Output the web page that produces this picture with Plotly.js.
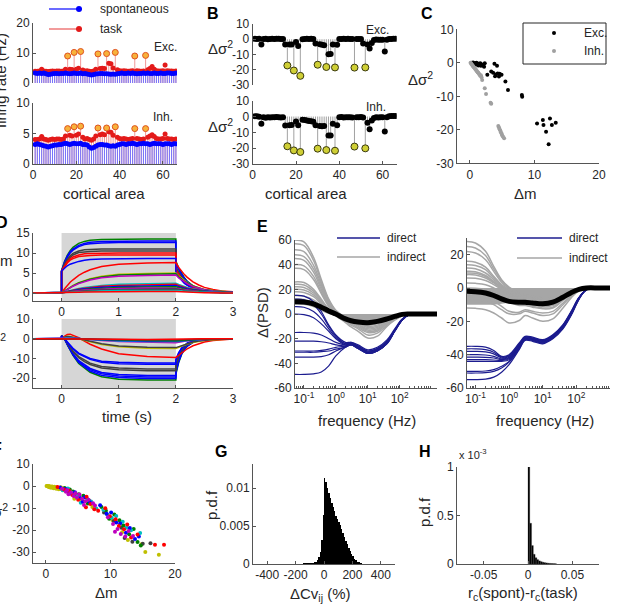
<!DOCTYPE html>
<html>
<head>
<meta charset="utf-8">
<script src="https://cdn.plot.ly/plotly-3.0.1.min.js"></script>
<style>
  html, body { margin: 0; padding: 0; background: #fff; }
  #fig { width: 618px; height: 604px; }
</style>
</head>
<body>
<div id="fig"></div>
<script>
// ---------- A / B : per-area firing rates and variance changes ----------
const stimAreas = [16, 19, 22, 30, 34, 38, 47, 52];

const rateSpontExc = [3.3,3.2,3.3,3.2,3.3,3.1,2.8,2.9,3.1,3.2, 3.2,3.1,3.2,3.2,3.3,3.2,3.1,3.2,3.3,3.2,
  3.2,3.3,3.1,3.2,3.0,2.8,2.7,2.8,3.0,3.1, 3.2,3.2,3.1,3.1,3.0,2.9,3.0,2.9,3.1,3.2,
  3.3,3.2,3.2,3.3,3.2,3.3,3.2,3.1,3.2,3.2, 3.3,3.2,3.3,3.2,3.2,3.3,3.2,3.2,3.3,3.2, 3.2,3.3,3.3,3.2,3.2,3.3];
const rateTaskExc = [3.9,3.9,4.0,4.6,4.0,3.9,3.8,3.9,4.0,3.9, 4.0,4.0,3.9,4.0,4.6,9.0,4.6,4.5,10.2,4.6,
  4.9,10.5,4.3,4.0,4.1,3.9,3.8,4.0,4.6,9.7, 4.8,4.9,4.8,9.8,6.6,6.4,5.0,10.2,4.4,4.1,
  4.0,4.1,4.0,3.9,4.0,4.1,9.0,4.1,4.0,3.9, 4.0,9.2,4.4,4.8,5.5,4.6,4.1,4.0,4.0,4.1, 6.0,4.1,4.0,4.0,3.9,4.0];
const rateSpontInh = [3.2,3.3,3.2,3.1,3.0,2.9,2.8,2.9,3.0,3.1, 3.1,3.2,3.2,3.3,3.4,3.3,3.2,3.3,3.4,3.3,
  3.3,3.4,3.2,3.2,3.1,2.8,2.6,2.7,2.9,3.1, 3.2,3.2,3.1,3.1,3.0,2.9,3.0,2.9,3.1,3.2,
  3.3,3.3,3.2,3.3,3.3,3.4,3.3,3.2,3.3,3.3, 3.4,3.3,3.3,3.2,3.3,3.4,3.3,3.3,3.3,3.2, 3.3,3.3,3.3,3.2,3.3,3.3];
const rateTaskInh = [4.0,4.0,4.1,4.5,4.1,4.0,3.9,4.0,4.1,4.0, 4.1,4.1,4.0,4.1,4.6,5.8,4.7,4.6,6.1,4.7,
  4.9,6.2,4.4,4.1,4.2,4.0,3.9,4.1,4.6,5.9, 4.8,4.9,4.8,5.9,5.3,5.2,4.7,6.1,4.4,4.2,
  4.1,4.2,4.1,4.0,4.1,4.2,5.8,4.2,4.1,4.0, 4.1,5.8,4.4,4.6,4.8,4.5,4.2,4.1,4.1,4.2, 4.9,4.2,4.1,4.1,4.0,4.1];

const dVarExc = [0.3,0.2,0.3,-3.5,0.2,0.3,0.0,0.2,0.3,0.2, 0.3,0.3,0.2,0.1,-3.5,-17.2,-3.5,-3.4,-20.5,-1.8,
  -4.5,-24.0,0.0,0.2,0.3,0.2,0.3,0.1,-2.8,-16.7, -3.2,-3.6,-4.0,-18.2,-9.8,-9.6,-3.5,-18.5,-3.6,0.2,
  0.1,0.3,0.2,0.3,0.2,0.2,-18.6,0.1,0.2,0.1, -2.8,-18.5,-3.5,-6.0,-2.5,-0.5,-0.2,-0.3,-0.4,-0.3, -8.0,-0.3,0.1,0.2,0.3,0.3];
const dVarInh = [0.2,0.1,-0.2,-4.6,-0.5,-0.8,-0.5,-0.6,-0.4,-0.5, -0.3,-0.4,-0.6,-0.5,-5.6,-18.8,-5.5,-5.4,-21.4,-3.2,
  -5.5,-22.4,-2.0,-2.2,-2.5,-2.8,-3.0,-3.3,-5.5,-20.3, -6.0,-6.2,-6.0,-21.2,-12.0,-12.0,-4.5,-21.6,-5.5,-0.5,
  -0.3,-0.6,-0.5,-0.4,-0.5,-0.6,-19.0,-0.5,-0.4,-0.3, -0.6,-20.1,-4.0,-8.0,-2.5,-1.0,-0.5,-0.6,-0.5,-0.4, -9.5,-0.5,0.1,0.3,0.4,0.3];

// ---------- C : change of variance vs change of mean ----------
const cExcDm = [0.3,0.5,0.6,0.8,0.9,1.0,1.1,1.2,1.3,1.4,1.5,1.6,1.7,1.8,2.0,2.2,2.3,2.7,3.3,3.6,
  3.8,3.9,4.0,4.2,4.3,4.5,4.6,4.9,5.5,5.9,8.05,8.1,10.4,11.3,11.4,11.8,12.2,12.4,12.7,13.3];
const cExcDv = [0.0,0.1,-0.2,-0.1,-0.4,0.0,-0.5,-0.2,-0.8,-0.3,-0.6,-0.1,-0.9,-0.4,-0.8,-1.2,-0.1,-3.6,-2.6,-3.0,
  -0.3,-4.0,-3.5,-0.9,-3.2,-4.1,-3.3,-3.6,-5.6,-8.1,-9.6,-10.1,-18.1,-17.1,-18.6,-20.6,-24.3,-16.6,-18.6,-17.9];
const cInhDm = [0.1,0.2,0.3,0.4,0.5,0.6,0.7,0.8,0.9,1.0,1.1,1.2,1.3,1.4,1.5,1.6,1.7,1.8,1.9,2.3,2.5,3.2,3.3,
  4.4,4.5,4.6,4.7,4.8,4.9,5.0,5.1,5.3];
const cInhDv = [0.0,-0.3,-0.5,-0.8,-1.0,-1.3,-1.5,-1.8,-2.0,-2.3,-2.5,-2.8,-3.0,-3.3,-3.6,-3.9,-3.7,-4.3,-5.1,-7.6,-9.3,-11.9,-12.2,
  -18.9,-19.3,-19.8,-20.2,-20.7,-21.1,-21.6,-22.0,-22.5];

// ---------- D : time courses of mean and variance ----------
const timeD = [-0.5,0,0,0.05,0.1,0.15,0.2,0.3,0.4,0.5,0.7,1.0,1.5,2.0,2.0,2.05,2.1,2.15,2.2,2.3,2.4,2.5,2.65,2.8,3.0];
const meanCurves = [
  [0,0,5.5,7.8,9.4,10.6,11.4,12.4,12.9,13.2,13.4,13.5,13.5,13.5,8.0,6.2,4.9,3.8,2.9,1.8,1.1,0.7,0.3,0.1,0.05],
  [0,0,5.6,7.7,9.2,10.3,11.0,11.9,12.4,12.7,12.9,13.0,13.0,13.0,7.6,5.9,4.6,3.6,2.8,1.7,1.0,0.6,0.3,0.1,0.04],
  [0,0,5.4,7.4,8.9,10.0,10.7,11.6,12.1,12.3,12.5,12.6,12.6,12.6,7.3,5.7,4.5,3.5,2.7,1.6,1.0,0.6,0.3,0.1,0.04],
  [0,0,5.5,7.2,8.4,9.3,9.9,10.5,10.8,10.9,11.0,11.0,11.0,11.0,6.5,5.1,4.0,3.1,2.4,1.5,0.9,0.5,0.25,0.1,0.03],
  [0,0,5.3,6.9,8.1,8.9,9.5,10.1,10.3,10.4,10.5,10.5,10.5,10.5,6.2,4.8,3.8,2.9,2.3,1.4,0.8,0.5,0.24,0.1,0.03],
  [0,0,5.5,6.8,7.8,8.5,9.0,9.5,9.8,9.9,10.0,10.0,10.0,10.0,5.8,4.5,3.5,2.7,2.1,1.3,0.8,0.5,0.22,0.1,0.03],
  [0,0,5.4,6.6,7.5,8.2,8.6,9.1,9.3,9.4,9.5,9.5,9.5,9.5,5.5,4.3,3.3,2.6,2.0,1.2,0.75,0.45,0.2,0.08,0.03],
  [0,0,5.5,6.2,6.8,7.2,7.5,7.9,8.2,8.4,8.5,8.6,8.6,8.6,5.2,4.0,3.1,2.4,1.9,1.1,0.7,0.4,0.2,0.08,0.02],
  [0,0,0,1.0,1.9,2.7,3.3,4.4,5.2,5.8,6.6,7.2,7.5,7.6,7.6,6.4,5.4,4.6,3.9,2.8,2.0,1.4,0.9,0.5,0.3],
  [0,0,0,0.5,1.0,1.5,1.9,2.6,3.2,3.6,4.2,4.7,4.9,5.0,5.0,4.2,3.6,3.0,2.6,1.8,1.3,0.9,0.6,0.35,0.2],
  [0,0,0,0.45,0.95,1.4,1.8,2.5,3.0,3.45,4.0,4.5,4.7,4.8,4.8,4.05,3.45,2.9,2.5,1.75,1.25,0.85,0.55,0.33,0.18],
  [0,0,0,0.4,0.9,1.3,1.7,2.35,2.85,3.25,3.8,4.2,4.4,4.5,4.5,3.8,3.25,2.7,2.35,1.65,1.15,0.8,0.5,0.3,0.17],
  [0,0,0,0.24,0.45,0.65,0.83,1.13,1.38,1.58,1.88,2.16,2.38,2.46,2.46,2.13,1.85,1.6,1.39,1.04,0.78,0.59,0.38,0.25,0.14],
  [0,0,0,0.21,0.4,0.57,0.73,0.99,1.21,1.39,1.66,1.9,2.09,2.16,2.16,1.87,1.62,1.41,1.22,0.92,0.69,0.52,0.34,0.22,0.12],
  [0,0,0,0.18,0.34,0.49,0.63,0.86,1.05,1.2,1.43,1.64,1.81,1.87,1.87,1.62,1.4,1.22,1.06,0.79,0.6,0.45,0.29,0.19,0.11],
  [0,0,0,0.15,0.29,0.41,0.53,0.72,0.88,1.01,1.2,1.38,1.52,1.57,1.57,1.36,1.18,1.02,0.89,0.67,0.5,0.38,0.24,0.16,0.09],
  [0,0,0,0.12,0.24,0.34,0.43,0.59,0.72,0.82,0.98,1.12,1.24,1.28,1.28,1.11,0.96,0.83,0.72,0.54,0.41,0.31,0.2,0.13,0.07],
  [0,0,0,0.1,0.18,0.26,0.33,0.45,0.55,0.63,0.75,0.87,0.95,0.98,0.98,0.85,0.74,0.64,0.55,0.42,0.31,0.24,0.15,0.1,0.06],
  [0,0,0,0.07,0.13,0.18,0.23,0.32,0.39,0.44,0.53,0.61,0.67,0.69,0.69,0.6,0.52,0.45,0.39,0.29,0.22,0.17,0.11,0.07,0.04],
  [0,0,0,0.04,0.07,0.1,0.13,0.18,0.22,0.25,0.3,0.35,0.38,0.39,0.39,0.34,0.29,0.25,0.22,0.17,0.12,0.09,0.06,0.04,0.02]
];
const meanColors = ['g','b','b','k','k','r','r','b','r','y','g','m','c','r','b','g','m','k','c','r'];
const varCurves = [
  [0,0,1.5,0,-3,-6,-8.5,-12.5,-15,-17,-19.3,-20.5,-21,-21,-18,-12,-8,-5.5,-3.8,-1.8,-0.9,-0.4,-0.15,-0.05,0],
  [0,0,1.5,0,-2.9,-5.8,-8.2,-12,-14.4,-16.4,-18.6,-19.7,-20.2,-20.2,-17.3,-11.5,-7.7,-5.3,-3.7,-1.7,-0.85,-0.38,-0.14,-0.05,0],
  [0,0,1.5,0,-2.8,-5.5,-7.9,-11.5,-13.9,-15.7,-17.8,-18.9,-19.4,-19.4,-16.6,-11.1,-7.4,-5.1,-3.5,-1.7,-0.8,-0.37,-0.13,-0.04,0],
  [0,0,1.4,0,-2.7,-5.3,-7.5,-11.1,-13.3,-15.1,-17.1,-18.1,-18.6,-18.6,-15.9,-10.6,-7.1,-4.9,-3.4,-1.6,-0.8,-0.35,-0.13,-0.04,0],
  [0,0,1.5,0.2,-2.2,-4.6,-6.6,-9.6,-11.6,-13.1,-14.9,-15.8,-16.2,-16.2,-13.9,-9.3,-6.2,-4.2,-2.9,-1.4,-0.7,-0.3,-0.11,-0.04,0],
  [0,0,1.4,0.2,-2.1,-4.3,-6.2,-9.1,-10.9,-12.4,-14.1,-14.9,-15.3,-15.3,-13.1,-8.7,-5.8,-4,-2.8,-1.3,-0.65,-0.3,-0.1,-0.04,0],
  [0,0,1.3,0.3,-1.8,-3.6,-5.2,-7.7,-9.3,-10.5,-12,-12.7,-13,-13,-11.1,-7.4,-4.9,-3.4,-2.3,-1.1,-0.55,-0.25,-0.09,-0.03,0],
  [0,0,1.3,0.3,-1.7,-3.4,-4.9,-7.3,-8.8,-10,-11.4,-12,-12.3,-12.3,-10.5,-7,-4.7,-3.2,-2.2,-1,-0.5,-0.24,-0.09,-0.03,0],
  [0,0,0,1.2,2.2,2.3,1.8,0.5,-1.2,-2.8,-5.2,-7.6,-9.0,-9.5,-9.5,-8.4,-7.2,-6.1,-5.1,-3.6,-2.5,-1.7,-0.9,-0.5,-0.2],
  [0,0,0,0.8,1.2,1.1,0.8,0.1,-0.8,-1.6,-2.9,-4.1,-4.8,-5,-5,-4.4,-3.8,-3.2,-2.7,-1.9,-1.3,-0.9,-0.5,-0.25,-0.1],
  [0,0,0,0.7,1.1,1.0,0.7,0.1,-0.7,-1.4,-2.6,-3.7,-4.3,-4.5,-4.5,-4,-3.4,-2.9,-2.4,-1.7,-1.2,-0.8,-0.45,-0.22,-0.09],
  [0,0,0,0.3,0.5,0.5,0.4,0.1,-0.2,-0.5,-0.9,-1.4,-1.8,-2,-2,-1.8,-1.5,-1.3,-1.1,-0.8,-0.5,-0.35,-0.2,-0.1,-0.05],
  [0,0,0,0.25,0.4,0.4,0.3,0.05,-0.2,-0.4,-0.75,-1.1,-1.45,-1.6,-1.6,-1.4,-1.2,-1.05,-0.9,-0.65,-0.45,-0.3,-0.16,-0.08,-0.04],
  [0,0,0,0.2,0.35,0.35,0.25,0.05,-0.15,-0.3,-0.6,-0.9,-1.2,-1.3,-1.3,-1.15,-1,-0.85,-0.7,-0.5,-0.35,-0.25,-0.13,-0.07,-0.03],
  [0,0,0,0.15,0.25,0.25,0.2,0.03,-0.1,-0.25,-0.45,-0.7,-0.9,-1,-1,-0.9,-0.75,-0.65,-0.55,-0.4,-0.28,-0.2,-0.1,-0.05,-0.02],
  [0,0,0,0.1,0.18,0.18,0.14,0.02,-0.07,-0.17,-0.32,-0.5,-0.63,-0.7,-0.7,-0.62,-0.53,-0.45,-0.38,-0.28,-0.2,-0.14,-0.07,-0.04,-0.02],
  [0,0,0,0.06,0.1,0.1,0.08,0.01,-0.04,-0.1,-0.18,-0.28,-0.36,-0.4,-0.4,-0.35,-0.3,-0.26,-0.22,-0.16,-0.11,-0.08,-0.04,-0.02,-0.01]
];
const varColors = ['g','b','b','b','k','k','b','b','r','y','k','m','c','b','g','k','r'];

// ---------- E : change of power spectral density ----------
const freqE = [0.05,0.1,0.2,0.35,0.6,1,2,3,5,10,20,40,70,120,200,500,2000];
const psdIndirectL = [
  [60,58.5,46,28,12,3,-2.5,-4,-5.5,-8,-7,-4.5,-2.4,-0.8,0,0,0],
  [57,55.5,43.5,26,11,2.5,-3,-4.5,-6,-9,-8,-5,-2.6,-0.9,0,0,0],
  [52,50.5,39.5,24,10,2,-3,-5,-7,-10,-9,-5.5,-3,-1,0,0,0],
  [48,46.5,36.5,22,9,1.5,-3.5,-5.5,-7.5,-11,-10,-6,-3.2,-1,0,0,0],
  [45,43.5,34,20,8,1,-4,-6,-8.5,-12,-11,-6.5,-3.4,-1.1,0,0,0],
  [40,39,30.5,18,7,0.5,-4,-6.5,-9,-13,-12,-7,-3.6,-1.2,0,0,0],
  [37,36,28,16.5,6,0,-4.5,-7,-10,-14,-13,-7.5,-3.8,-1.2,0,0,0],
  [26,25.5,20,12,4,-0.5,-5,-8,-11,-15,-14,-8,-4,-1.3,0,0,0],
  [24,23.5,18.5,11,3.5,-1,-6,-9,-12,-17,-15.5,-9,-4.5,-1.4,0,0,0],
  [22,21.5,17,10,3,-1.5,-7,-10.5,-14,-19.5,-18,-10,-5,-1.5,0,0,0],
  [20,19.5,15.5,9,2.5,-1,-4,-5.5,-6.5,-7,-6,-4,-2,-0.6,0,0,0],
  [18,17.5,14,8,2,-1,-3.5,-5,-6,-6.5,-5.5,-3.5,-1.8,-0.5,0,0,0],
  [15,14.5,11.5,6.5,1.5,-1,-3,-4.5,-5.5,-6,-5,-3.2,-1.6,-0.5,0,0,0],
  [12,11.8,9,5,1,-1,-3,-4,-5,-5.5,-4.8,-3,-1.5,-0.4,0,0,0],
  [8,7.8,6,3,0.5,-1,-2.5,-3.5,-4.5,-5,-4.5,-2.8,-1.4,-0.4,0,0,0]
];
const psdDirectL = [
  [15,14.5,10,2,-9,-17,-23,-23,-25,-29,-27,-21,-12,-4,-0.5,0,0],
  [12,11.5,7.5,0,-10,-18,-24,-23.5,-26,-30,-28,-22,-13,-4.5,-0.5,0,0],
  [6,5.5,2,-4,-12,-19,-24,-23,-26,-30,-28,-22,-13,-4.5,-0.5,0,0],
  [0,-0.5,-3,-8,-14,-20,-25,-24,-27,-31,-29,-23,-13.5,-4.5,-0.5,0,0],
  [-15,-15,-15.5,-17,-20,-23,-25,-24,-27,-31,-29,-23,-13.5,-4.5,-0.5,0,0],
  [-22,-22,-22,-22.5,-23.5,-25,-26,-25,-28,-32,-30,-24,-14,-5,-0.5,0,0],
  [-30,-30,-30,-29.5,-28.5,-27,-26,-24.5,-27,-31,-29,-23,-13.5,-4.5,-0.5,0,0],
  [-31,-31,-31,-30.5,-30,-28.5,-27,-25,-28,-32,-30,-24,-14,-5,-0.5,0,0],
  [-35,-35,-35,-34.5,-33,-30,-26.5,-24.5,-27,-31,-29,-23,-13.5,-4.5,-0.5,0,0],
  [-49,-49,-48.5,-47,-42,-34,-27,-25,-28,-32,-30,-24,-14,-5,-0.5,0,0]
];
const psdMeanL = [10,9.8,8.3,5.5,2.5,0,-4,-5.5,-6.5,-7,-6,-4,-2,-0.3,0,0,0];
const psdBandL = [0,0,0,0,0,0,-4,-5.5,-6.5,-7,-6,-4,-2,-0.3,0,0,0];

const psdIndirectR = [
  [28,27,22,13,5,0.5,-3,-4,-5,-6,-5.5,-3.5,-1.8,-0.5,0,0,0],
  [25,24,19.5,11.5,4.5,0,-3.5,-4.5,-5.5,-6.5,-6,-4,-2,-0.5,0,0,0],
  [22,21,17,10,3.5,-0.5,-4,-5,-6,-7,-6.5,-4.2,-2.1,-0.6,0,0,0],
  [16,15.5,12.5,7,2,-1,-4.5,-5.5,-6.5,-7.5,-7,-4.5,-2.2,-0.6,0,0,0],
  [14,13.5,11,6,1.5,-1.5,-5,-6,-7,-8,-7.5,-4.8,-2.4,-0.7,0,0,0],
  [12,11.5,9,5,1,-2,-5.5,-6.5,-7.5,-8.5,-8,-5,-2.5,-0.7,0,0,0],
  [10,9.8,7.5,4,0.5,-2.5,-6,-7,-8,-9,-8.5,-5.2,-2.6,-0.7,0,0,0],
  [9,8.8,6.8,3.5,0,-3,-6.5,-7.5,-8.5,-9.5,-9,-5.5,-2.7,-0.8,0,0,0],
  [8,7.8,6,3,-0.5,-3.5,-7,-8,-9,-10,-9.5,-5.8,-2.8,-0.8,0,0,0],
  [6,5.8,4.5,2,-1,-4,-7.5,-8.5,-9.5,-10.5,-10,-6,-3,-0.8,0,0,0],
  [3,2.8,2,0,-2.5,-5,-8,-9,-10,-11,-10.5,-6.5,-3.2,-0.9,0,0,0],
  [0,-0.2,-1,-2.5,-4.5,-6.5,-9,-10,-11,-12,-11.5,-7,-3.4,-0.9,0,0,0],
  [-3,-3.2,-4,-5.5,-7,-8.5,-10.5,-10.5,-11.5,-12.5,-12,-7.5,-3.6,-1,0,0,0],
  [-5,-5.2,-6,-8,-11,-14,-14.5,-13,-14,-15,-14,-9,-4.5,-1.2,0,0,0],
  [-7,-7.2,-8,-10,-13,-15.5,-15.5,-14,-15,-16.5,-15.5,-10,-5,-1.3,0,0,0],
  [-12,-12.2,-13,-15,-18,-21,-19.5,-16.5,-18,-20,-18.5,-12,-6,-1.5,0,0,0]
];
const psdDirectR = [
  [-35,-35,-35.5,-37.5,-41,-40,-33,-29,-29.5,-31,-28,-22,-14,-5.5,-1,0,0],
  [-36.5,-36.5,-37,-38.5,-41.5,-40.5,-33.5,-29.5,-30,-31.5,-28.5,-22.5,-14.5,-5.8,-1,0,0],
  [-38,-38,-38.3,-39.5,-42,-41,-34,-29.5,-30,-31.5,-28.5,-22.5,-14.5,-5.8,-1,0,0],
  [-40,-40,-40.2,-41,-42.5,-41.5,-34.5,-30,-30.5,-32,-29,-23,-15,-6,-1,0,0],
  [-41.5,-41.5,-41.6,-42,-43,-42,-35,-30,-30.5,-32,-29,-23,-15,-6,-1,0,0],
  [-43,-43,-43,-43.2,-43.5,-42.5,-35,-30.5,-31,-32.5,-29.5,-23.5,-15.5,-6.2,-1,0,0],
  [-44,-44,-44,-44,-44,-43,-35.5,-30.5,-31,-32.5,-29.5,-23.5,-15.5,-6.2,-1,0,0],
  [-50,-50,-49.8,-49,-47,-44,-36,-31,-31.5,-33,-30,-24,-16,-6.5,-1,0,0],
  [-51,-51,-50.8,-50,-48,-44.5,-36.5,-31,-31.5,-33,-30,-24,-16,-6.5,-1,0,0],
  [-55,-55,-54.7,-53.5,-50.5,-46,-37,-31.5,-32,-33.5,-30.5,-24.5,-16.5,-6.8,-1,0,0]
];
const psdMeanR = [-2,-2.2,-3,-4.5,-6.5,-8,-8.5,-8.5,-9,-9.5,-8.5,-5.5,-2.8,-0.8,0,0,0];
const psdBandR = [-10,-10,-10,-10,-9.5,-9,-9,-9,-9.2,-9.5,-8.5,-5.5,-2.8,-0.8,0,0,0];

// ---------- F : pairwise changes, coloured by area ----------
const fYelDm = [0.1,0.3,0.5,0.7,0.9,1.1,1.3,1.5,1.7,1.9,2.1,2.4,2.7,3.2,4.4,5.6,7.2,10.3,11.8,12.7,14.8,15.4,17.5,0.6,1.2,2.0,0.4,1.6,2.3,0.8,0.2,1.0,1.4,1.8,2.2,2.6,2.9,0.5,1.2,2.5];
const fYelDv = [0,-0.1,0,-0.3,-0.2,-0.5,-0.3,-0.8,-0.6,-1.1,-0.9,-1.4,-1.8,-2.4,-5.8,-6.5,-9.5,-15.5,-21,-24.5,-26.5,-30,-31.2,-0.6,-1,-1.5,-0.3,-1.3,-0.6,-0.8,-0.05,-0.3,-0.6,-0.9,-1.2,-1.5,-2.0,-0.4,-0.7,-1.0];
const fDarkDm = [3.5,4.7,6.7,9.0,10.5,11.7,13.4,15.0,16.2,12.2];
const fDarkDv = [-2.7,-4.0,-6.6,-12.0,-15.9,-19.0,-25.3,-26.2,-26.0,-23.6];
const fGrnDm = [2.9,3.7,4.2,5.1,5.8,6.5,8.6,9.3,9.8,10.6,11.4,12.0,12.9,13.6,14.2,14.7];
const fGrnDv = [-0.9,-1.6,-2.5,-3.7,-4.4,-8.0,-9.5,-11.3,-14.9,-13.0,-15.6,-18.0,-21.9,-19.6,-25.4,-27.0];
const fCyanDm = [2.6,3.4,4.0,4.9,5.4,6.4,7.0,8.9,9.5,10.2,10.9,11.9,12.5,13.2,14.6,7.8];
const fCyanDv = [-1.9,-1.1,-3.1,-4.5,-7.6,-5.8,-7.0,-10.8,-13.0,-14.4,-13.6,-16.2,-18.9,-20.1,-21.4,-10.2];
const fBlueDm = [2.2,3.0,3.8,4.5,5.3,6.0,6.8,8.4,9.4,10.1,10.9,11.5,12.4,13.0,13.8,14.4,5.7];
const fBlueDv = [-0.7,-1.4,-3.4,-2.8,-5.5,-5.1,-7.4,-8.7,-12.6,-12.1,-16.6,-17.1,-21.3,-19.1,-24.1,-23.0,-7.2];
const fRedDm = [1.8,2.8,3.6,4.1,5.0,6.3,6.9,7.5,8.1,9.2,9.9,10.8,11.3,12.1,12.6,13.2,14.2,16.9,18.3,6.2];
const fRedDv = [-0.4,-1.6,-2.2,-4.1,-6.3,-4.9,-8.2,-10.6,-11.2,-10.1,-13.8,-15.1,-18.2,-19.7,-17.5,-23.4,-22.1,-26.7,-26.7,-9.7];
const fMagDm = [2.5,3.1,3.5,3.9,4.3,4.8,5.2,5.6,6.1,6.6,7.3,7.6,9.6,10.4,11.1,11.6,12.3,12.8,13.5,10.7,3.3,4.6,5.9];
const fMagDv = [-1.2,-2.6,-3.8,-2.9,-4.6,-5.2,-3.9,-5.8,-6.9,-6.2,-7.8,-8.9,-14.2,-17.3,-19.6,-21.8,-22.9,-20.4,-22.7,-20.8,-1.8,-3.3,-8.6];

// ---------- G : distribution of change in Cv (%) ----------
const cvBinCenters = [-95,-85,-75,-65,-55,-45,-35,-25,-15,-5,5,15,25,35,45,55,65,75,85,95,
  105,115,125,135,145,155,165,175,185,195,205,215,225,235,245,255,265,275,285,295];
const cvDensity = [0.0001,0.00012,0.00015,0.0002,0.0003,0.0005,0.0009,0.0016,0.0032,0.0065,
  0.0114,0.0108,0.0100,0.0094,0.0087,0.0080,0.0075,0.0070,0.0064,0.0060,
  0.0056,0.0051,0.0046,0.0041,0.0036,0.0031,0.0026,0.0021,0.0017,0.0013,
  0.0010,0.0007,0.0005,0.0003,0.0002,0.00012,0.00008,0.00005,0.00003,0.00002];
const cvTailCenters = [-425,-375,-325,-275,-225,-175,-125,325,375,425];
const cvTailDensity = [0.00001,0.00002,0.00002,0.00003,0.00004,0.00006,0.0001,0.00002,0.00001,0.00001];

// ---------- H : distribution of rc(spont) - rc(task), units of 1e-3 ----------
const rcBinCenters = [0.001,0.003,0.005,0.007,0.009,0.011,0.013,0.015,0.017,0.019,0.021,0.023,0.025,0.027,0.029,0.031];
const rcDensity = [1.0,0.42,0.19,0.10,0.065,0.045,0.032,0.024,0.018,0.014,0.011,0.008,0.006,0.005,0.004,0.003];

// ---------- tick labels ----------
const ticksA1 = [0,10,20], ticksA2 = [0,5,10], ticksArea = [0,20,40,60];
const ticksB = [-30,-20,-10,0,10], ticksC = [0,10,20];
const ticksDt = [0,1,2,3], ticksDm = [0,5,10,15], ticksDv = [-20,-10,0,10];
const ticksEL = [-60,-40,-20,0,20,40,60], ticksER = [-60,-40,-20,0,20];
const ticksFreq = [0.1,1,10,100], ticksFreqText = ['10<sup>-1</sup>','10<sup>0</sup>','10<sup>1</sup>','10<sup>2</sup>'];
const ticksFy = [-30,-20,-10,0,10];
const ticksGx = [-400,-200,0,200,400], ticksGy = [0,0.005,0.01];
const ticksHx = [-0.05,0,0.05], ticksHy = [0,0.5,1];

// ---------- drawing ----------
const W = 618, H = 604;
const AX = '#555555', TXT = '#262626';
const FONT = 'Liberation Sans, Arial, sans-serif';
const COL = {b:'#0000ff', g:'#008000', r:'#ff0000', c:'#00bfbf', m:'#bf00bf', y:'#bfbf00', k:'#404040'};
const DIRECT = '#1c1c8f', INDIRECT = '#a6a6a6';
const areas = rateSpontExc.map((_, i) => i + 1);

const fx = px => px / W;
const fy = px => 1 - px / H;

function stemXY(xs, ys, base) {
  const X = [], Y = [];
  xs.forEach((x, i) => { X.push(x, x, null); Y.push(base, ys[i], null); });
  return {X, Y};
}

const traces = [];
function add(t) { traces.push(Object.assign({hoverinfo: 'skip', showlegend: false, type: 'scatter'}, t)); }

// A: firing rates (stem plots)
function rateSubplot(xa, ya, spont, task) {
  let s = stemXY(areas, task, 0);
  add({x: s.X, y: s.Y, xaxis: xa, yaxis: ya, mode: 'lines', name: 'task', line: {color: '#f19999', width: 1}});
  s = stemXY(areas, spont, 0);
  add({x: s.X, y: s.Y, xaxis: xa, yaxis: ya, mode: 'lines', name: 'spontaneous', line: {color: '#7373ff', width: 1}});
  add({x: areas, y: task, xaxis: xa, yaxis: ya, mode: 'markers', name: 'task', marker: {color: '#e31a1a', size: 5}});
  add({x: areas, y: spont, xaxis: xa, yaxis: ya, mode: 'markers', name: 'spontaneous', marker: {color: '#0000ff', size: 5}});
  add({x: stimAreas, y: stimAreas.map(a => task[a - 1]), xaxis: xa, yaxis: ya, mode: 'markers',
       marker: {color: '#f7b23b', size: 6, line: {color: '#e0531f', width: 1}}});
}
rateSubplot('x', 'y', rateSpontExc, rateTaskExc);
rateSubplot('x2', 'y2', rateSpontInh, rateTaskInh);

// B: variance changes (stem plots)
function varSubplot(xa, ya, dv) {
  const s = stemXY(areas, dv, 0);
  add({x: s.X, y: s.Y, xaxis: xa, yaxis: ya, mode: 'lines', line: {color: '#8a8a8a', width: 0.8}});
  add({x: areas, y: dv, xaxis: xa, yaxis: ya, mode: 'markers', marker: {color: '#000000', size: 6}});
  add({x: stimAreas, y: stimAreas.map(a => dv[a - 1]), xaxis: xa, yaxis: ya, mode: 'markers',
       marker: {color: '#cfcf35', size: 7, line: {color: '#3a3a10', width: 1}}});
}
varSubplot('x3', 'y3', dVarExc);
varSubplot('x4', 'y4', dVarInh);

// C: scatter
add({x: cExcDm, y: cExcDv, xaxis: 'x5', yaxis: 'y5', mode: 'markers', name: 'Exc.', marker: {color: '#000000', size: 4}});
add({x: cInhDm, y: cInhDv, xaxis: 'x5', yaxis: 'y5', mode: 'markers', name: 'Inh.', marker: {color: '#a0a0a0', size: 4}});

// D: time courses
meanCurves.forEach((c, i) => add({x: timeD, y: c, xaxis: 'x6', yaxis: 'y6', mode: 'lines',
  line: {color: COL[meanColors[i]], width: 1.5}}));
varCurves.forEach((c, i) => add({x: timeD, y: c, xaxis: 'x7', yaxis: 'y7', mode: 'lines',
  line: {color: COL[varColors[i]], width: 1.5}}));

// E: PSD differences
function psdSubplot(xa, ya, band, indirect, direct, mean) {
  add({x: freqE, y: band, xaxis: xa, yaxis: ya, mode: 'lines', fill: 'tozeroy', fillcolor: INDIRECT,
       line: {width: 0, color: INDIRECT, shape: 'spline'}});
  indirect.forEach(c => add({x: freqE, y: c, xaxis: xa, yaxis: ya, mode: 'lines', name: 'indirect',
    line: {color: INDIRECT, width: 1.5, shape: 'spline'}}));
  direct.forEach(c => add({x: freqE, y: c, xaxis: xa, yaxis: ya, mode: 'lines', name: 'direct',
    line: {color: DIRECT, width: 1.2, shape: 'spline'}}));
  add({x: freqE, y: mean, xaxis: xa, yaxis: ya, mode: 'lines', line: {color: '#000000', width: 5, shape: 'spline'}});
}
psdSubplot('x8', 'y8', psdBandL, psdIndirectL, psdDirectL, psdMeanL);
psdSubplot('x9', 'y9', psdBandR, psdIndirectR, psdDirectR, psdMeanR);

// F: pairwise scatter
[[fYelDm, fYelDv, 'y'], [fDarkDm, fDarkDv, 'k'], [fGrnDm, fGrnDv, 'g'], [fCyanDm, fCyanDv, 'c'],
 [fBlueDm, fBlueDv, 'b'], [fRedDm, fRedDv, 'r'], [fMagDm, fMagDv, 'm']].forEach(g =>
  add({x: g[0], y: g[1], xaxis: 'x10', yaxis: 'y10', mode: 'markers', marker: {color: COL[g[2]], size: 4}}));

// G: histogram
add({type: 'bar', x: cvTailCenters, y: cvTailDensity, width: 50, xaxis: 'x11', yaxis: 'y11',
     marker: {color: '#000000', line: {width: 0}}});
add({type: 'bar', x: cvBinCenters, y: cvDensity, width: 10, xaxis: 'x11', yaxis: 'y11',
     marker: {color: '#000000', line: {width: 0}}});

// H: histogram
add({type: 'bar', x: rcBinCenters, y: rcDensity, width: 0.002, xaxis: 'x12', yaxis: 'y12',
     marker: {color: '#000000', line: {color: '#333', width: 0.3}}});

// ---------- axes ----------
function axis(extra) {
  return Object.assign({showline: true, linecolor: AX, linewidth: 1, ticks: 'inside', ticklen: 3, tickcolor: AX,
    showgrid: false, zeroline: false, fixedrange: true, tickfont: {family: FONT, size: 12, color: TXT}}, extra);
}
function tv(vals) { return {tickmode: 'array', tickvals: vals, ticktext: vals.map(v => String(v))}; }
const xDom = (a, b) => [fx(a), fx(b)];
const yDom = (top, bottom) => [fy(bottom), fy(top)];

const minorLog = [];
for (let d = -2; d <= 3; d++) for (let m = 2; m <= 9; m++) minorLog.push(m * Math.pow(10, d));

const layout = {
  width: W, height: H, margin: {l: 0, r: 0, t: 0, b: 0}, showlegend: false,
  paper_bgcolor: '#ffffff', plot_bgcolor: 'rgba(0,0,0,0)',
  font: {family: FONT, size: 12, color: TXT}, hovermode: false, barmode: 'overlay', bargap: 0,

  xaxis:  axis(Object.assign({domain: xDom(33, 177), range: [0, 66.5], anchor: 'y', visible: false}, tv(ticksArea))),
  yaxis:  axis(Object.assign({domain: yDom(23, 83), range: [0, 20], anchor: 'x'}, tv(ticksA1))),
  xaxis2: axis(Object.assign({domain: xDom(33, 177), range: [0, 66.5], anchor: 'y2'}, tv(ticksArea))),
  yaxis2: axis(Object.assign({domain: yDom(103, 164), range: [0, 10], anchor: 'x2'}, tv(ticksA2))),

  xaxis3: axis(Object.assign({domain: xDom(252.7, 396.7), range: [0, 66.5], anchor: 'y3', visible: false}, tv(ticksArea))),
  yaxis3: axis(Object.assign({domain: yDom(24, 85), range: [-30, 10], anchor: 'x3'}, tv(ticksB))),
  xaxis4: axis(Object.assign({domain: xDom(252.7, 396.7), range: [0, 66.5], anchor: 'y4'}, tv(ticksArea))),
  yaxis4: axis(Object.assign({domain: yDom(100.7, 164), range: [-30, 10], anchor: 'x4'}, tv(ticksB))),

  xaxis5: axis(Object.assign({domain: xDom(457, 599), range: [-2, 20], anchor: 'y5'}, tv(ticksC))),
  yaxis5: axis(Object.assign({domain: yDom(29.3, 163.3), range: [-30, 10], anchor: 'x5'}, tv(ticksB))),

  xaxis6: axis(Object.assign({domain: xDom(33, 233), range: [-0.5, 3], anchor: 'y6'}, tv(ticksDt))),
  yaxis6: axis(Object.assign({domain: yDom(233, 301), range: [-2, 15], anchor: 'x6'}, tv(ticksDm))),
  xaxis7: axis(Object.assign({domain: xDom(33, 233), range: [-0.5, 3], anchor: 'y7'}, tv(ticksDt))),
  yaxis7: axis(Object.assign({domain: yDom(319, 388), range: [-25, 10], anchor: 'x7'}, tv(ticksDv))),

  xaxis8: axis({domain: xDom(295, 437), type: 'log', range: [-1.28, 3.17], anchor: 'y8',
    tickmode: 'array', tickvals: ticksFreq, ticktext: ticksFreqText,
    minor: {tickvals: minorLog, ticks: 'inside', ticklen: 2, tickcolor: AX}}),
  yaxis8: axis(Object.assign({domain: yDom(240, 388), range: [-60, 60], anchor: 'x8'}, tv(ticksEL))),
  xaxis9: axis({domain: xDom(467, 610), type: 'log', range: [-1.25, 3.0], anchor: 'y9',
    tickmode: 'array', tickvals: ticksFreq, ticktext: ticksFreqText,
    minor: {tickvals: minorLog, ticks: 'inside', ticklen: 2, tickcolor: AX}}),
  yaxis9: axis(Object.assign({domain: yDom(238, 388), range: [-60, 30], anchor: 'x9'}, tv(ticksER))),

  xaxis10: axis(Object.assign({domain: xDom(33, 175), range: [-2, 20], anchor: 'y10'}, tv(ticksC))),
  yaxis10: axis(Object.assign({domain: yDom(464, 563), range: [-35, 10], anchor: 'x10'}, tv(ticksFy))),

  xaxis11: axis(Object.assign({domain: xDom(253, 395), range: [-500, 500], anchor: 'y11'}, tv(ticksGx))),
  yaxis11: axis(Object.assign({domain: yDom(464, 564), range: [0, 0.0132], anchor: 'x11'}, tv(ticksGy))),

  xaxis12: axis(Object.assign({domain: xDom(457, 599), range: [-0.08, 0.08], anchor: 'y12'}, tv(ticksHx))),
  yaxis12: axis(Object.assign({domain: yDom(467, 564), range: [0, 1], anchor: 'x12'}, tv(ticksHy))),

  shapes: [
    {type: 'rect', xref: 'x6', yref: 'y6 domain', x0: 0, x1: 2, y0: 0, y1: 1, fillcolor: '#d6d6d6', line: {width: 0}, layer: 'below'},
    {type: 'rect', xref: 'x7', yref: 'y7 domain', x0: 0, x1: 2, y0: 0, y1: 1, fillcolor: '#d6d6d6', line: {width: 0}, layer: 'below'},
    // frame of the C legend
    {type: 'rect', xref: 'paper', yref: 'paper', x0: fx(523), x1: fx(606), y0: fy(64), y1: fy(23),
     fillcolor: '#ffffff', line: {color: TXT, width: 1}, layer: 'above'}
  ],
  annotations: []
};

// legend keys (sample line and/or dot) placed in page pixels
function keyLine(x0, x1, y, color, width) {
  layout.shapes.push({type: 'line', xref: 'paper', yref: 'paper', x0: fx(x0), x1: fx(x1), y0: fy(y), y1: fy(y),
    line: {color: color, width: width}, layer: 'above'});
}
function keyDot(cx, cy, r, color) {
  layout.shapes.push({type: 'circle', xref: 'paper', yref: 'paper', x0: fx(cx - r), x1: fx(cx + r),
    y0: fy(cy + r), y1: fy(cy - r), fillcolor: color, line: {width: 0}, layer: 'above'});
}

function ann(text, xpx, ypx, opt) {
  layout.annotations.push(Object.assign({text: text, xref: 'paper', yref: 'paper', x: fx(xpx), y: fy(ypx),
    showarrow: false, xanchor: 'center', yanchor: 'middle',
    font: {family: FONT, size: 15, color: TXT}}, opt || {}));
}
const bold = {font: {family: FONT, size: 16, color: '#000'}};
const small = {font: {family: FONT, size: 12, color: TXT}};
const keyText = {xanchor: 'left', font: {family: FONT, size: 12, color: TXT}};

// legend of A
keyLine(49, 82, 9, '#3a3aff', 1.5); keyDot(79, 9, 3, '#0000ff');
keyLine(49, 82, 29, '#ee7a7a', 1.5); keyDot(79, 29, 3, '#e31a1a');
ann('spontaneous', 98, 9, keyText);
ann('task', 98, 29, keyText);
// legend of C
keyDot(554, 33, 2, '#000000'); ann('Exc.', 582, 33, keyText);
keyDot(554, 51, 2, '#a0a0a0'); ann('Inh.', 582, 51, keyText);
// legends of E
keyLine(337, 380, 238, DIRECT, 1.5); ann('direct', 385, 238, keyText);
keyLine(337, 380, 257, INDIRECT, 1.5); ann('indirect', 385, 257, keyText);
keyLine(517, 562, 238, DIRECT, 1.5); ann('direct', 567, 238, keyText);
keyLine(517, 562, 258, INDIRECT, 1.5); ann('indirect', 567, 258, keyText);

// panel letters
ann('<b>B</b>', 213, 13, bold);
ann('<b>C</b>', 427, 13, bold);
ann('<b>D</b>', 2, 223, bold);
ann('<b>E</b>', 262, 226, bold);
ann('<b>F</b>', -3, 448, bold);
ann('<b>G</b>', 221, 451, bold);
ann('<b>H</b>', 425, 451, bold);

// A
ann('firing rate (Hz)', 1, 81, {textangle: -90});
ann('Exc.', 165, 47, small);
ann('Inh.', 163, 117, small);
ann('cortical area', 104, 193);
// B
ann('Δσ<sup>2</sup>', 220, 47);
ann('Δσ<sup>2</sup>', 220, 125);
ann('Exc.', 377, 30, small);
ann('Inh.', 376, 107, small);
ann('cortical area', 306, 193);
// C
ann('Δσ<sup>2</sup>', 420, 78);
ann('Δm', 525, 193);
// D
ann('Δm', 1, 260);
ann('Δσ<sup>2</sup>', -7, 340);
ann('time (s)', 127, 416);
// E
ann('Δ(PSD)', 262, 313, {textangle: -90});
ann('frequency (Hz)', 367, 420);
ann('frequency (Hz)', 545, 420);
// F
ann('Δσ<sup>2</sup>', -5, 510);
ann('Δm', 106, 592);
// G
ann('p.d.f', 211, 505, {textangle: -90});
ann('ΔCv<sub>ij</sub> (%)', 320, 594);
// H
ann('p.d.f', 424, 512, {textangle: -90});
ann('r<sub>c</sub>(spont)-r<sub>c</sub>(task)', 523, 593);
ann('x 10<sup>-3</sup>', 457, 454, {xanchor: 'left', font: {family: FONT, size: 11, color: TXT}});

Plotly.newPlot('fig', traces, layout, {staticPlot: true, displayModeBar: false});
</script>
</body>
</html>
